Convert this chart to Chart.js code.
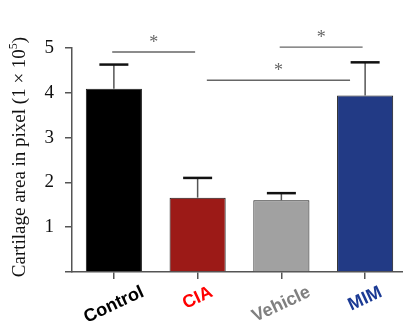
<!DOCTYPE html>
<html><head><meta charset="utf-8">
<script src="https://cdn.jsdelivr.net/npm/chart.js@4"></script>
<style>
html,body{margin:0;padding:0;background:#fff;overflow:hidden;}
#wrap{position:relative;width:407px;height:329px;}
</style></head>
<body><div id="wrap"><canvas id="c"></canvas></div>
<script>
const categories = ["Control", "CIA", "Vehicle", "MIM"];
const values = [4.09, 1.66, 1.60, 3.94];
const errors = [0.54, 0.44, 0.16, 0.74];
const yTicks = [0, 1, 2, 3, 4, 5];
const barColors = ["#000000", "#9c1a17", "#a1a1a1", "#223a85"];
const labelColors = ["#000000", "#ff0000", "#808080", "#1b3a94"];
const sigFrom = [-0.02, 1.98, 1.11];
const sigTo = [0.97, 2.97, 2.82];
const sigY = [4.91, 5.02, 4.28];
const yTitle = "Cartilage area in pixel (1 \u00d7 10";
const yTitleSup = "5";

const extras = {
  id: 'extras',
  afterDatasetsDraw(chart) {
    const ctx = chart.ctx, xs = chart.scales.x, ys = chart.scales.y;
    const meta = chart.getDatasetMeta(0);
    meta.data.forEach((bar, i) => {
      const x = bar.x, top = ys.getPixelForValue(values[i]), e = ys.getPixelForValue(values[i] + errors[i]);
      ctx.save();
      ctx.strokeStyle = '#555'; ctx.lineWidth = 1.5;
      ctx.beginPath(); ctx.moveTo(x, top); ctx.lineTo(x, e); ctx.stroke();
      ctx.strokeStyle = '#111'; ctx.lineWidth = 2.5;
      ctx.beginPath(); ctx.moveTo(x - 14.5, e); ctx.lineTo(x + 14.5, e); ctx.stroke();
      ctx.restore();
    });
    const p0 = xs.getPixelForValue(0), step = xs.getPixelForValue(1) - p0;
    const px = v => p0 + v * step;
    sigY.forEach((yv, i) => {
      const y = ys.getPixelForValue(yv);
      ctx.save();
      ctx.strokeStyle = '#666'; ctx.lineWidth = 1.4;
      ctx.beginPath(); ctx.moveTo(px(sigFrom[i]), y); ctx.lineTo(px(sigTo[i]), y); ctx.stroke();
      ctx.fillStyle = '#666'; ctx.font = '18px "Liberation Serif"';
      ctx.textAlign = 'center'; ctx.textBaseline = 'middle';
      ctx.fillText('*', (px(sigFrom[i]) + px(sigTo[i])) / 2, y - 9);
      ctx.restore();
    });
    categories.forEach((lab, i) => {
      const x = xs.getPixelForValue(i);
      ctx.save();
      ctx.font = 'bold 18px "Liberation Sans"';
      const w = ctx.measureText(lab).width;
      const a = 25 * Math.PI / 180;
      const cy = 285 + (w / 2) * Math.sin(a) + 7 * Math.cos(a);
      ctx.translate(x, cy);
      ctx.rotate(-a);
      ctx.fillStyle = labelColors[i];
      ctx.textAlign = 'center'; ctx.textBaseline = 'middle';
      ctx.fillText(lab, 0, 0);
      ctx.restore();
    });
    ctx.save();
    ctx.translate(25, 157);
    ctx.rotate(-Math.PI / 2);
    ctx.fillStyle = '#111';
    ctx.font = '19px "Liberation Serif"';
    const w1 = ctx.measureText(yTitle).width;
    ctx.font = '12px "Liberation Serif"';
    const w2 = ctx.measureText(yTitleSup).width;
    ctx.font = '19px "Liberation Serif"';
    const w3 = ctx.measureText(')').width;
    const total = w1 + w2 + w3;
    let sx = -total / 2;
    ctx.textAlign = 'left'; ctx.textBaseline = 'alphabetic';
    ctx.fillText(yTitle, sx, 0); sx += w1;
    ctx.font = '12px "Liberation Serif"';
    ctx.fillText(yTitleSup, sx, -8); sx += w2;
    ctx.font = '19px "Liberation Serif"';
    ctx.fillText(')', sx, 0);
    ctx.restore();
  }
};

new Chart(document.getElementById('c'), {
  type: 'bar',
  data: {
    labels: categories,
    datasets: [{
      data: values,
      backgroundColor: barColors,
      borderColor: '#1a1a1a',
      borderWidth: 1,
      categoryPercentage: 1,
      barPercentage: 0.67
    }]
  },
  options: {
    responsive: true,
    maintainAspectRatio: false,
    animation: false,
    layout: { padding: { top: 48, right: 0, bottom: 0, left: 0 } },
    plugins: { legend: { display: false }, tooltip: { enabled: false } },
    scales: {
      x: {
        grid: { display: true, drawOnChartArea: false, drawTicks: true, tickLength: 7, offset: false, color: '#555', lineWidth: 1.5 },
        border: { display: true, color: '#555', width: 1.5 },
        ticks: { display: false },
        afterFit(s) { s.height = 57; }
      },
      y: {
        min: 0, max: 5,
        afterBuildTicks(s) { s.ticks = yTicks.map(v => ({ value: v })); },
        grid: { display: true, drawOnChartArea: false, drawTicks: true, tickLength: 7, color: '#555', lineWidth: 1.5 },
        border: { display: true, color: '#555', width: 1.5 },
        ticks: {
          padding: 11,
          color: '#111',
          font: { family: 'Liberation Serif', size: 19 },
          callback: v => v === 0 ? '' : String(v)
        },
        afterFit(s) { s.width = 72; }
      }
    }
  },
  plugins: [extras]
});
</script>
</body></html>
